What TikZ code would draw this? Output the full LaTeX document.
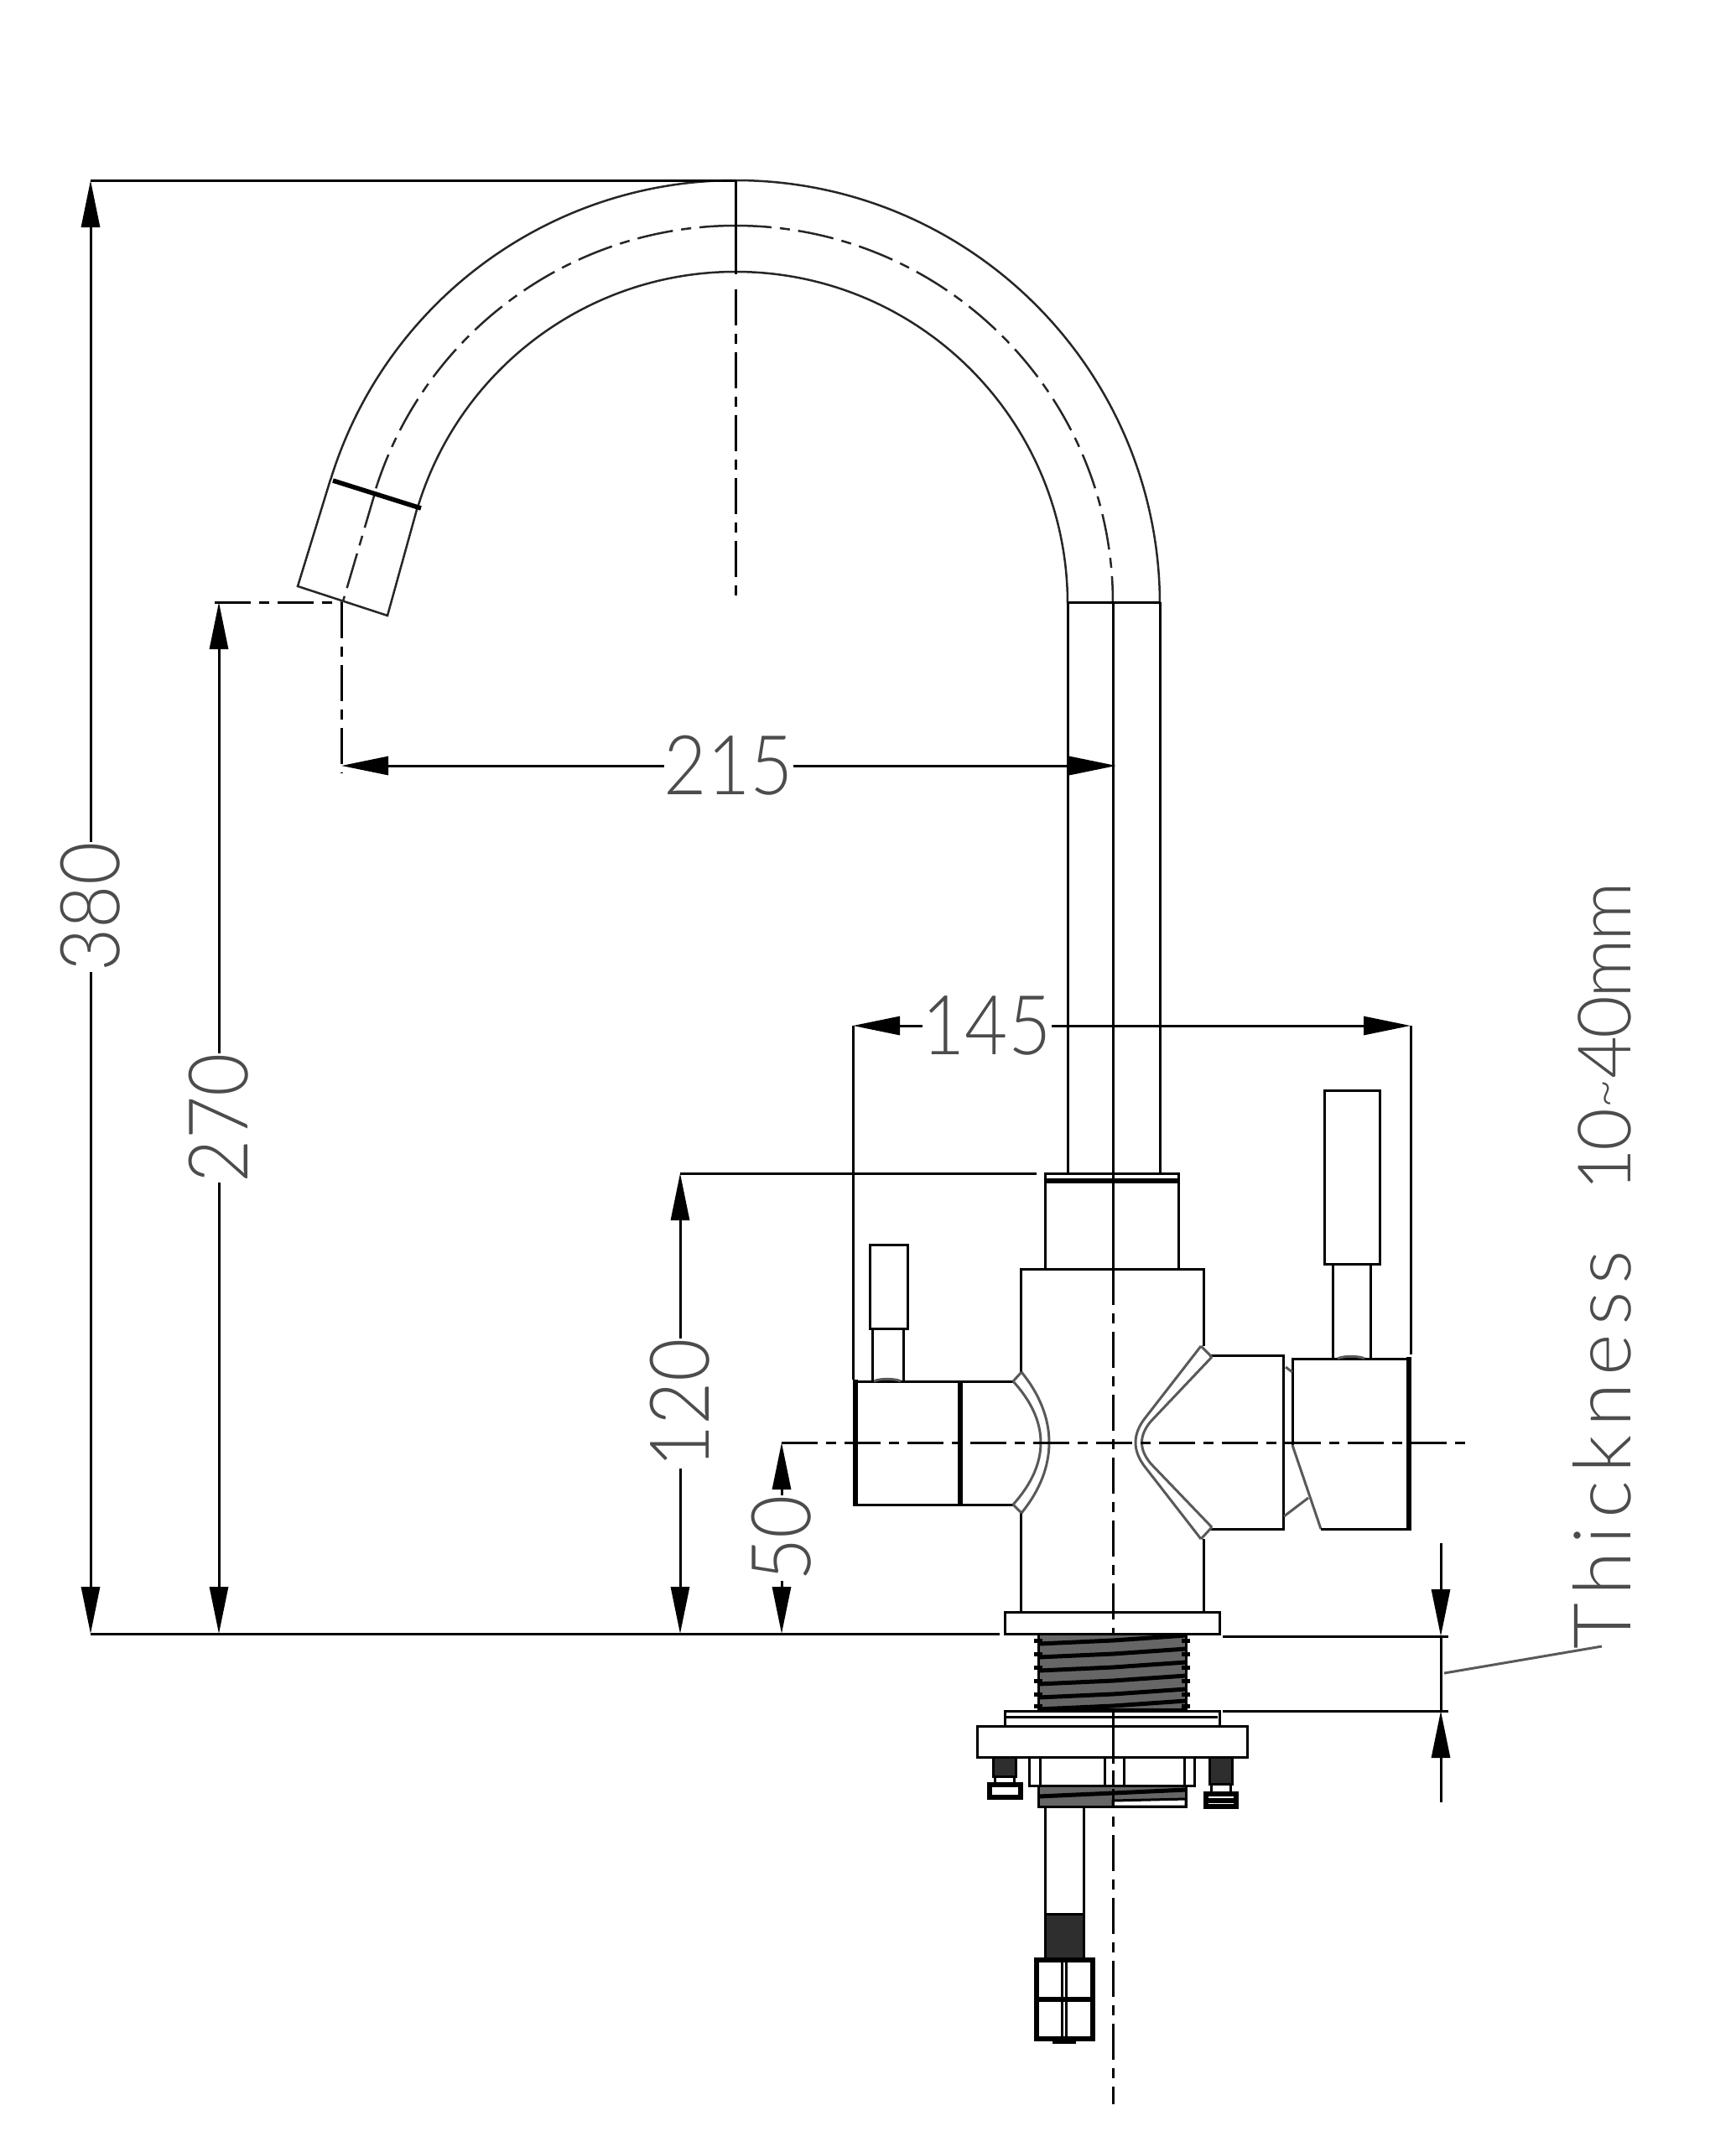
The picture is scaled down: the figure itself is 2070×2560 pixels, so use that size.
\documentclass[tikz,border=0pt]{standalone}
\usepackage{fontspec}
\setmainfont{Lato Light}
\newfontfamily\motfont[LetterSpace=10]{Lato Light}
\newfontfamily\mesurefont[LetterSpace=-3]{Lato Light}
\usetikzlibrary{arrows.meta}
\tikzset{
    cote/.style={<->, >={Triangle[length=5.6mm,width=2.2mm]}},
    coteleft/.style={->, >={Triangle[length=5.6mm,width=2.2mm]}},
    axe/.style={dash pattern=on 4.3mm off 1mm on 1.2mm off 1mm},
    epais/.style={line width=0.55mm},
    fin/.style={black!65, line width=0.3mm},
    courbe/.style={black!85, line width=0.25mm},
    valeurbase/.style={fill=white, inner sep=0pt, minimum height=5mm, text=black!70, font=\fontsize{28}{28}\selectfont},
    valeur/.style={valeurbase, xscale=0.9},
    valeurv/.style={rotate=90, valeurbase, xscale=0.9},
    filet/.style={fill=black!60},
    sombre/.style={fill=black!82},
}
\begin{document}
\begin{tikzpicture}[x=0.1mm, y=-0.1mm, line width=0.3mm]
    \useasboundingbox (0,0) rectangle (2070,2560);
    % bec
    \draw[courbe] (877,215) arc (-90:0:506);
    \draw[courbe] (877,215) arc (-90:-163:505);
    \draw[courbe] (877,324) arc (-90:0:396);
    \draw[courbe] (877,324) arc (-90:-163:396);
    \draw[courbe, axe] (877,269) arc (-90:0:450);
    \draw[courbe, axe] (877,269) arc (-90:-163:450);
    \draw[courbe] (394,572) -- (355,699) -- (462,734) -- (498,604);
    \draw[courbe, axe] (447,588) -- (409,717);
    \draw[epais] (397,573) -- (502,606);
    \draw (877,215) -- (877,327);
    \draw[axe] (877,345) -- (877,718);
    % tube
    \draw (1273,718) -- (1273,1399);
    \draw (1383,718) -- (1383,1399);
    \draw (1273,718) -- (1383,718);
    \draw (1327.5,718) -- (1327.5,1513);
    % bague et corps
    \draw (1246,1399) rectangle (1405,1513);
    \draw[epais] (1246,1408) -- (1405,1408);
    \draw (1217,1636) -- (1217,1513) -- (1435,1513) -- (1435,1605);
    \draw (1217,1804) -- (1217,1922);
    \draw (1435,1835) -- (1435,1922);
    \draw (1198,1922) rectangle (1454,1948);
    \draw[axe] (1327.5,1513) -- (1327.5,2509);
    % poignee gauche
    \draw (1020,1647) -- (1210,1647);
    \draw (1020,1794) -- (1210,1794);
    \draw[epais] (1020,1645) -- (1020,1796);
    \draw[epais] (1145,1647) -- (1145,1794);
    \draw (1037,1484) rectangle (1082,1584);
    \draw (1040,1584) -- (1040,1647);
    \draw (1077,1584) -- (1077,1647);
    \draw[fin] (1042,1647) arc (-160:-20:17 and 4);
    \draw[fin] (1218,1636) .. controls (1262,1690) and (1262,1750) .. (1218,1804);
    \draw[fin] (1208,1647) .. controls (1252,1695) and (1252,1745) .. (1208,1794);
    \draw[fin] (1218,1636) -- (1208,1647);
    \draw[fin] (1218,1804) -- (1208,1794);
    % poignee droite
    \draw (1442,1616) -- (1530,1616) -- (1530,1823) -- (1442,1823);
    \draw[fin] (1432,1605) -- (1445,1618);
    \draw[fin] (1432,1835) -- (1445,1821);
    \draw[fin] (1432,1605) -- (1366,1690) .. controls (1350,1710) and (1350,1730) .. (1366,1750) -- (1432,1835);
    \draw[fin] (1445,1618) -- (1372,1695) .. controls (1358,1712) and (1358,1728) .. (1372,1745) -- (1445,1821);
    \draw (1541,1723) -- (1541,1620) -- (1680,1620);
    \draw[fin] (1541,1723) -- (1575,1823);
    \draw (1575,1823) -- (1680,1823);
    \draw[epais] (1680,1618) -- (1680,1825);
    \draw[fin] (1531,1808) -- (1560,1786);
    \draw[fin] (1533,1630) -- (1541,1636);
    \draw (1579,1300) rectangle (1645,1507);
    \draw (1589,1507) -- (1589,1620);
    \draw (1634,1507) -- (1634,1620);
    \draw[fin] (1595,1620) arc (-160:-20:17 and 4);
    \draw[axe] (932,1720) -- (1750,1720);
    % filetage
    \draw[filet] (1238,1948) rectangle (1414,2038);
    \foreach \yf in {1956,1972,1988,2004,2020,2034}{
        \draw[line width=0.5mm] (1238,\yf+4) -- (1327,\yf) -- (1414,\yf-6);
        \draw[line width=0.5mm] (1233,\yf) -- (1243,\yf);
        \draw[line width=0.5mm] (1409,\yf) -- (1419,\yf);
    }
    \draw (1198,2040) rectangle (1454,2058);
    \draw (1200,2047) -- (1452,2047);
    \draw (1165,2058) rectangle (1487,2095);
    \draw (1227,2095) rectangle (1424,2129);
    \foreach \xe in {1240,1412,1317,1340}{
        \draw (\xe,2095) -- (\xe,2129);
    }
    \draw[filet] (1238,2129) rectangle (1414,2154);
    \draw[line width=0.5mm] (1238,2142) -- (1327,2138) -- (1414,2134);
    \draw[fill=white] (1327,2147) -- (1414,2145) -- (1414,2154) -- (1327,2154) -- cycle;
    \draw[axe] (1327.5,2058) -- (1327.5,2154);
    % vis
    \draw[sombre] (1184,2095) rectangle (1211,2118);
    \draw (1186,2118) -- (1186,2127);
    \draw (1209,2118) -- (1209,2127);
    \draw[epais] (1180,2128) rectangle (1217,2143);
    \draw[sombre] (1442,2095) rectangle (1469,2127);
    \draw (1444,2127) -- (1444,2138);
    \draw (1467,2127) -- (1467,2138);
    \draw[epais] (1438,2139) rectangle (1474,2154);
    \draw[epais] (1438,2147) -- (1474,2147);
    % tige
    \draw (1246,2154) -- (1246,2282);
    \draw (1292,2154) -- (1292,2282);
    \draw[sombre] (1246,2282) rectangle (1292,2337);
    \draw[epais] (1236,2337) rectangle (1303,2431);
    \draw[epais] (1236,2384) -- (1303,2384);
    \draw (1266,2337) -- (1266,2431);
    \draw (1271,2337) -- (1271,2431);
    \draw[fill=black] (1256,2431) rectangle (1281,2435);
    % cotes
    \draw (108,215) -- (877,215);
    \draw (108,1948) -- (1192,1948);
    \draw[cote] (108,215) --node[valeurv, midway] (v380) {380} (108,1948);
    \draw[axe] (256,718) -- (407,718);
    \draw[axe] (407,718) -- (407,922);
    \draw[cote] (261,718) --node[valeurv, midway] (v270) {270} (261,1948);
    \draw[cote] (407,913) --node[valeur, midway] (v215) {215} (1331,913);
    \draw (811,1399) -- (1236,1399);
    \draw[cote] (811,1399) --node[valeurv, midway] (v120) {120} (811,1948);
    \draw[cote] (932,1720) --node[valeurv, midway] (v50) {50} (932,1948);
    \draw (1017,1223) -- (1017,1645);
    \draw (1682,1223) -- (1682,1615);
    \draw[cote] (1017,1223) --node[valeur, pos=0.24] (v145) {145} (1682,1223);
    % epaisseur
    \draw (1458,1951) -- (1727,1951);
    \draw (1458,2040) -- (1727,2040);
    \draw[coteleft] (1718,1840) -- (1718,1951);
    \draw (1718,1951) -- (1718,2040);
    \draw[coteleft] (1718,2149) -- (1718,2040);
    \draw[fin] (1722,1995) -- (1910,1963);
    \node[rotate=90, anchor=base west, inner sep=0pt, text=black!70, font=\fontsize{27}{27}\selectfont] (vep) at (1944,1968) {{\motfont Thickness}\kern 7mm{\mesurefont\fontsize{25}{25}\selectfont 10\raisebox{3pt}{\fontsize{17}{17}\selectfont\textasciitilde}40mm}};
\end{tikzpicture}
\end{document}
